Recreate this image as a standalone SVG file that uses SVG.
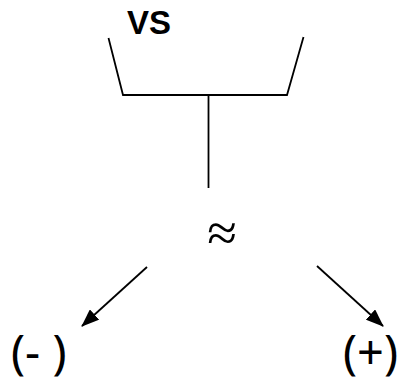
<svg xmlns="http://www.w3.org/2000/svg" width="397" height="385" viewBox="0 0 397 385">
<style>
.ln{stroke:#000;stroke-width:1.8;fill:none}
.t{font-family:"Noto Sans",sans-serif;fill:#000}
</style>
<defs>
<marker id="ah2" markerWidth="18" markerHeight="14" refX="17" refY="7" orient="auto" markerUnits="userSpaceOnUse" viewBox="0 0 18 14">
<path d="M0,0 L18,7 L0,14 Z" fill="#000"/>
</marker>
</defs>
<g id="connectors">
<polyline class="ln" points="108.5,38 123,95 287,95 303.5,37"/>
<line class="ln" x1="208.5" y1="95" x2="208.5" y2="188"/>
<line class="ln" x1="147" y1="267" x2="82" y2="326" marker-end="url(#ah2)"/>
<line class="ln" x1="317" y1="266" x2="383" y2="326" marker-end="url(#ah2)"/>
</g>
<g id="vs"><text x="127" y="34" font-size="34" font-weight="bold" font-family="'Liberation Sans',Arial,sans-serif" textLength="44" lengthAdjust="spacingAndGlyphs">VS</text></g>
<g id="approx"><text x="222" y="251" font-size="54" font-family="'Liberation Serif',serif" text-anchor="middle">≈</text></g>
<g id="minus"><text class="t" x="11" y="369" font-size="47" xml:space="preserve">(- )</text></g>
<g id="plus"><text class="t" x="343" y="369" font-size="47">(+)</text></g>
</svg>
